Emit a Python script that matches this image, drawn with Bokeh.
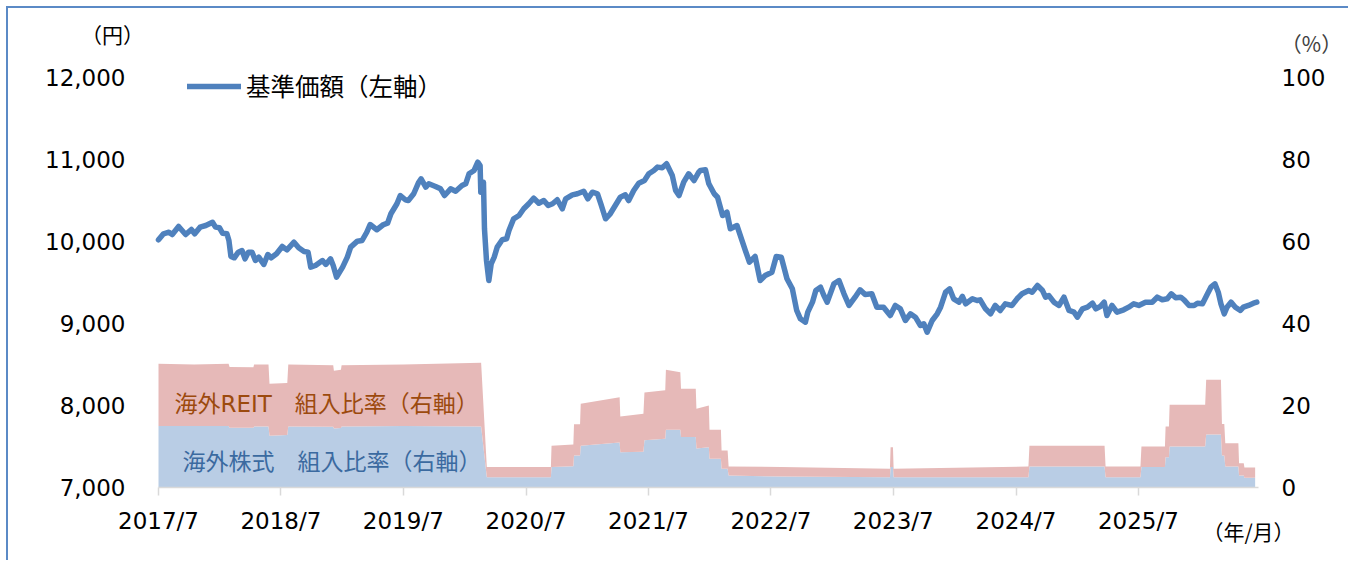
import pandas as pd
from bokeh.plotting import figure
from bokeh.models import (Range1d, LinearAxis, FixedTicker, NumeralTickFormatter,
                          CustomJSTickFormatter, Label, Legend, LegendItem, ColumnDataSource)
from bokeh.embed import file_html
from bokeh.resources import INLINE

# ---------------- data ----------------
price_dates = [
    "2017-07-01", "2017-07-16", "2017-08-01", "2017-08-11", "2017-08-30", "2017-09-20", "2017-10-07", "2017-10-17",
    "2017-11-02", "2017-11-19", "2017-12-09", "2017-12-18", "2017-12-30", "2018-01-08", "2018-01-21", "2018-01-27",
    "2018-02-02", "2018-02-12", "2018-02-24", "2018-03-07", "2018-03-16", "2018-03-26", "2018-04-06", "2018-04-16",
    "2018-04-26", "2018-05-11", "2018-05-23", "2018-06-02", "2018-06-18", "2018-07-05", "2018-07-19", "2018-08-09",
    "2018-08-23", "2018-09-08", "2018-09-20", "2018-09-28", "2018-10-12", "2018-11-02", "2018-11-12", "2018-11-26",
    "2018-12-04", "2018-12-14", "2019-01-01", "2019-01-15", "2019-01-25", "2019-02-14", "2019-02-28", "2019-03-14",
    "2019-03-24", "2019-04-13", "2019-05-03", "2019-05-15", "2019-05-25", "2019-06-12", "2019-06-22", "2019-07-07",
    "2019-07-16", "2019-08-01", "2019-08-16", "2019-08-23", "2019-09-06", "2019-09-15", "2019-10-05", "2019-10-20",
    "2019-11-01", "2019-11-19", "2019-12-04", "2019-12-23", "2020-01-03", "2020-01-13", "2020-01-28", "2020-02-08",
    "2020-02-15", "2020-02-17", "2020-02-25", "2020-02-28", "2020-03-05", "2020-03-12", "2020-03-19", "2020-03-28",
    "2020-04-06", "2020-04-21", "2020-05-04", "2020-05-11", "2020-05-25", "2020-06-10", "2020-06-24", "2020-07-09",
    "2020-07-24", "2020-08-08", "2020-08-23", "2020-09-05", "2020-09-18", "2020-10-02", "2020-10-17", "2020-10-27",
    "2020-11-16", "2020-12-01", "2020-12-20", "2021-01-01", "2021-01-15", "2021-01-30", "2021-02-09", "2021-02-23",
    "2021-03-09", "2021-03-24", "2021-04-08", "2021-04-23", "2021-05-03", "2021-05-18", "2021-06-02", "2021-06-19",
    "2021-07-02", "2021-07-17", "2021-07-28", "2021-08-11", "2021-08-24", "2021-09-10", "2021-09-20", "2021-09-30",
    "2021-10-14", "2021-10-29", "2021-11-14", "2021-11-28", "2021-12-03", "2021-12-18", "2021-12-28", "2022-01-13",
    "2022-01-23", "2022-02-07", "2022-02-20", "2022-03-02", "2022-03-22", "2022-04-06", "2022-04-16", "2022-04-28",
    "2022-05-15", "2022-05-30", "2022-06-14", "2022-07-04", "2022-07-17", "2022-08-01", "2022-08-18", "2022-09-03",
    "2022-09-16", "2022-09-27", "2022-10-12", "2022-10-19", "2022-11-02", "2022-11-12", "2022-11-26", "2022-12-06",
    "2022-12-16", "2023-01-05", "2023-01-20", "2023-02-04", "2023-02-19", "2023-03-09", "2023-03-24", "2023-04-08",
    "2023-04-28", "2023-05-13", "2023-06-02", "2023-06-22", "2023-07-07", "2023-07-22", "2023-08-06", "2023-08-21",
    "2023-09-05", "2023-09-20", "2023-09-30", "2023-10-10", "2023-10-25", "2023-11-09", "2023-11-19", "2023-12-04",
    "2023-12-16", "2023-12-28", "2024-01-13", "2024-01-23", "2024-02-02", "2024-02-22", "2024-03-07", "2024-03-16",
    "2024-04-01", "2024-04-16", "2024-04-30", "2024-05-15", "2024-05-30", "2024-06-19", "2024-07-04", "2024-07-19",
    "2024-08-08", "2024-08-18", "2024-09-03", "2024-09-18", "2024-09-27", "2024-10-07", "2024-10-22", "2024-11-06",
    "2024-11-21", "2024-12-06", "2024-12-21", "2024-12-31", "2025-01-15", "2025-01-30", "2025-02-14", "2025-02-24",
    "2025-03-09", "2025-03-21", "2025-03-29", "2025-04-13", "2025-04-28", "2025-05-18", "2025-06-02", "2025-06-17",
    "2025-07-02", "2025-07-22", "2025-08-11", "2025-08-26", "2025-09-10", "2025-09-25", "2025-10-07", "2025-10-20",
    "2025-11-04", "2025-11-14", "2025-11-29", "2025-12-14", "2025-12-24", "2026-01-08", "2026-01-23", "2026-02-02",
    "2026-02-14", "2026-02-24", "2026-03-04", "2026-03-14", "2026-03-22", "2026-04-03", "2026-04-16", "2026-05-01",
    "2026-05-10", "2026-05-25", "2026-06-09", "2026-06-19",
]
price_values = [
    10020, 10094, 10113, 10085, 10183, 10085, 10146, 10094,
    10175, 10195, 10235, 10175, 10167, 10101, 10094, 10012,
    9817, 9801, 9870, 9890, 9789, 9870, 9870, 9768,
    9809, 9720, 9841, 9801, 9850, 9939, 9898, 9992,
    9923, 9878, 9870, 9687, 9707, 9768, 9720, 9789,
    9707, 9565, 9687, 9809, 9931, 10004, 10012, 10113,
    10207, 10143, 10207, 10223, 10338, 10460, 10561, 10509,
    10500, 10582, 10723, 10764, 10662, 10704, 10671, 10642,
    10561, 10642, 10613, 10683, 10704, 10826, 10866, 10967,
    10927, 10601, 10723, 10155, 9768, 9524, 9728, 9809,
    9931, 10021, 10033, 10134, 10277, 10317, 10399, 10460,
    10528, 10467, 10500, 10439, 10460, 10509, 10399, 10521,
    10569, 10582, 10613, 10521, 10601, 10582, 10460, 10277,
    10338, 10439, 10540, 10569, 10500, 10622, 10711, 10744,
    10826, 10866, 10907, 10899, 10948, 10805, 10622, 10561,
    10723, 10826, 10744, 10845, 10866, 10874, 10704, 10582,
    10540, 10317, 10358, 10155, 10195, 10012, 9890, 9748,
    9817, 9524, 9585, 9626, 9817, 9809, 9545, 9423,
    9159, 9057, 9016, 9138, 9260, 9402, 9443, 9341,
    9260, 9484, 9524, 9362, 9220, 9321, 9411, 9354,
    9362, 9199, 9199, 9098, 9220, 9179, 9037, 9118,
    9077, 8976, 8996, 8894, 9037, 9118, 9199, 9382,
    9423, 9301, 9260, 9330, 9240, 9301, 9280, 9289,
    9179, 9118, 9220, 9159, 9240, 9220, 9301, 9362,
    9402, 9382, 9463, 9402, 9321, 9341, 9260, 9220,
    9321, 9159, 9138, 9077, 9179, 9199, 9248, 9179,
    9207, 9260, 9098, 9220, 9138, 9167, 9199, 9240,
    9220, 9260, 9260, 9321, 9289, 9301, 9362, 9313,
    9321, 9289, 9220, 9220, 9248, 9240, 9362, 9443,
    9484, 9382, 9240, 9118, 9199, 9260, 9199, 9159,
    9199, 9220, 9248, 9260,
]

alloc_dates = [
    "2017-07-01", "2017-10-15", "2018-01-26", "2018-01-29", "2018-04-10", "2018-04-12", "2018-05-25", "2018-05-28",
    "2018-07-20", "2018-07-23", "2018-12-04", "2018-12-06", "2018-12-27", "2018-12-29", "2019-07-01", "2020-02-18",
    "2020-03-06", "2020-09-13", "2020-09-15", "2020-11-19", "2020-11-21", "2020-12-09", "2020-12-11", "2021-04-06",
    "2021-04-08", "2021-06-16", "2021-06-19", "2021-08-20", "2021-08-22", "2021-10-04", "2021-10-06", "2021-11-19",
    "2021-11-21", "2021-12-28", "2021-12-30", "2022-02-02", "2022-02-04", "2022-02-22", "2022-02-25", "2022-08-01",
    "2023-06-21", "2023-06-23", "2023-06-30", "2023-07-02", "2024-08-07", "2024-08-10", "2025-03-22", "2025-03-25",
    "2025-07-07", "2025-07-10", "2025-09-18", "2025-09-20", "2025-09-30", "2025-10-02", "2026-01-16", "2026-01-19",
    "2026-03-04", "2026-03-07", "2026-03-14", "2026-03-17", "2026-04-25", "2026-04-27", "2026-05-11", "2026-05-13",
    "2026-06-14",
]
stock_pct = [
    15.0, 15.0, 15.0, 14.6, 14.6, 14.9, 14.9, 12.6,
    12.8, 14.9, 14.8, 14.4, 14.5, 14.9, 15.0, 14.9,
    2.5, 2.5, 5.0, 5.2, 7.8, 7.8, 10.2, 11.0,
    8.6, 8.7, 11.5, 11.9, 14.1, 14.1, 12.3, 12.3,
    9.5, 9.8, 7.0, 7.0, 4.6, 4.6, 2.9, 2.7,
    2.5, 5.0, 5.0, 2.5, 2.5, 5.1, 5.1, 2.5,
    2.5, 5.0, 5.0, 7.4, 7.4, 10.0, 10.0, 12.9,
    12.9, 7.8, 7.8, 5.1, 5.1, 2.9, 2.9, 2.4,
    2.4,
]
reit_pct = [
    15.2, 15.0, 15.2, 14.8, 14.7, 15.1, 15.1, 12.7,
    12.7, 15.1, 15.0, 14.1, 14.2, 14.9, 15.0, 15.5,
    2.5, 2.5, 5.2, 5.3, 7.6, 7.6, 10.2, 11.0,
    8.7, 9.3, 11.7, 11.8, 14.6, 14.0, 11.8, 11.8,
    9.7, 10.2, 7.1, 7.1, 4.4, 4.4, 2.2, 2.3,
    2.1, 4.8, 4.8, 2.1, 2.6, 5.1, 5.1, 2.6,
    2.6, 5.0, 5.0, 7.5, 7.5, 10.2, 10.2, 13.4,
    13.4, 7.7, 7.7, 5.7, 5.7, 3.0, 3.0, 2.5,
    2.5,
]

left_ticks = [7000, 8000, 9000, 10000, 11000, 12000]
right_ticks = [0, 20, 40, 60, 80, 100]
x_tick_dates = ["2017-07-01", "2018-07-01", "2019-07-01", "2020-07-01", "2021-07-01",
                "2022-07-01", "2023-07-01", "2024-07-01", "2025-07-01"]
x_start, x_end = "2017-07-01", "2026-06-24"
y_left = (7000, 12000)
y_right = (0, 100)

legend_label = "基準価額（左軸）"
reit_label = "海外REIT　組入比率（右軸）"
stock_label = "海外株式　組入比率（右軸）"

# ---------------- layout ----------------
NUM_FONT = "'DejaVu Sans', 'Noto Sans CJK JP'"
JP_FONT = "'Noto Sans CJK JP'"
FS = "23px"

# core plotting box (where the axes sit) and extra room inside the frame for texts
CORE_W, CORE_H = 1100, 410
PAD_L, PAD_R, PAD_T, PAD_B = 150, 90, 69, 73
FRAME_W, FRAME_H = CORE_W + PAD_L + PAD_R, CORE_H + PAD_T + PAD_B

t0, t1 = pd.Timestamp(x_start), pd.Timestamp(x_end)
ms0, ms1 = t0.value // 10**6, t1.value // 10**6
mpp = (ms1 - ms0) / CORE_W
vpp_l = (y_left[1] - y_left[0]) / CORE_H
vpp_r = (y_right[1] - y_right[0]) / CORE_H

line_src = ColumnDataSource(dict(x=pd.to_datetime(price_dates), y=price_values))
area_src = ColumnDataSource(dict(x=pd.to_datetime(alloc_dates), stock=stock_pct, reit=reit_pct))

p = figure(
    x_axis_type="datetime",
    frame_width=FRAME_W, frame_height=FRAME_H,
    min_border=0,
    x_range=Range1d(ms0 - PAD_L * mpp, ms1 + PAD_R * mpp),
    y_range=Range1d(y_left[0] - PAD_B * vpp_l, y_left[1] + PAD_T * vpp_l),
    output_backend="svg", toolbar_location=None,
)
p.styles = {"margin-left": "6px", "margin-top": "6px",
            "border-left": "2px solid #5B8AC6", "border-top": "2px solid #5B8AC6"}
p.outline_line_color = None
p.xgrid.visible = False
p.ygrid.visible = False
p.background_fill_color = "white"
p.border_fill_color = "white"

p.extra_y_ranges = {"pct": Range1d(y_right[0] - PAD_B * vpp_r, y_right[1] + PAD_T * vpp_r)}

# stacked areas on the right axis
p.varea_stack(stackers=["stock", "reit"], x="x", source=area_src, y_range_name="pct",
              color=["#B9CDE5", "#E6B9B8"])

# price line
r_line = p.line("x", "y", source=line_src, line_color="#4F81BD", line_width=5.5,
                line_join="round", line_cap="round")

# left axis
ya = p.yaxis[0]
ya.fixed_location = ms0
ya.bounds = y_left
ya.ticker = FixedTicker(ticks=left_ticks)
ya.formatter = NumeralTickFormatter(format="0,0")
ya.axis_line_color = None
ya.major_tick_out = 0
ya.major_tick_in = 0
ya.minor_tick_out = 0
ya.minor_tick_in = 0
ya.major_label_standoff = 33
ya.major_label_text_font = NUM_FONT
ya.major_label_text_font_size = FS
ya.major_label_text_color = "black"

# right axis
ra = LinearAxis(y_range_name="pct", ticker=FixedTicker(ticks=right_ticks))
ra.fixed_location = ms1
ra.bounds = y_right
ra.axis_line_color = None
ra.major_tick_out = 0
ra.major_tick_in = 0
ra.minor_tick_out = 0
ra.minor_tick_in = 0
ra.major_label_standoff = 23
ra.major_label_text_font = NUM_FONT
ra.major_label_text_font_size = FS
ra.major_label_text_color = "black"
p.add_layout(ra, "right")

# bottom axis
xa = p.xaxis[0]
xa.fixed_location = y_left[0]
xa.bounds = (ms0, ms1)
xa.ticker = FixedTicker(ticks=[pd.Timestamp(d).value // 10**6 for d in x_tick_dates])
xa.formatter = CustomJSTickFormatter(code="""
const d = new Date(tick);
return d.getUTCFullYear() + "/" + (d.getUTCMonth() + 1);
""")
xa.axis_line_color = "#D9D9D9"
xa.axis_line_width = 1.5
xa.major_tick_line_color = "#D9D9D9"
xa.major_tick_line_width = 1.5
xa.major_tick_out = 8
xa.major_tick_in = 0
xa.minor_tick_out = 0
xa.minor_tick_in = 0
xa.major_label_standoff = 12
xa.major_label_text_font = NUM_FONT
xa.major_label_text_font_size = FS
xa.major_label_text_color = "black"

# legend (screen units relative to the frame's bottom-left)
legend = Legend(items=[LegendItem(label=legend_label, renderers=[r_line])],
                location=(PAD_L + 29, FRAME_H - 78 - 17), orientation="horizontal",
                padding=0, margin=0, spacing=0,
                glyph_width=54, glyph_height=20, label_standoff=5,
                border_line_color=None, background_fill_alpha=0,
                label_text_font=JP_FONT, label_text_font_size="24.5px",
                label_text_color="black")
p.add_layout(legend, "center")

def add_label(txt, px, py, color, size=FS, align="left", font=JP_FONT):
    # px, py: position measured from the frame's top-left corner
    p.add_layout(Label(x=px, y=FRAME_H - py, x_units="screen", y_units="screen", text=txt,
                       text_font=font, text_font_size=size, text_color=color,
                       text_align=align, text_baseline="middle"))

add_label("（円）", 104, 25, "black", size="21px", align="center")
add_label("（%）", 1303, 34, "#404040", size="21px", align="center")
add_label("（年/月）", 1240, 522, "black", size="21px", align="center")
add_label(reit_label, 166, 395, "#9C4A0E", font=NUM_FONT)
add_label(stock_label, 174, 453, "#3B6AA0", font=NUM_FONT)

open("out.html", "w").write(file_html(p, INLINE))
